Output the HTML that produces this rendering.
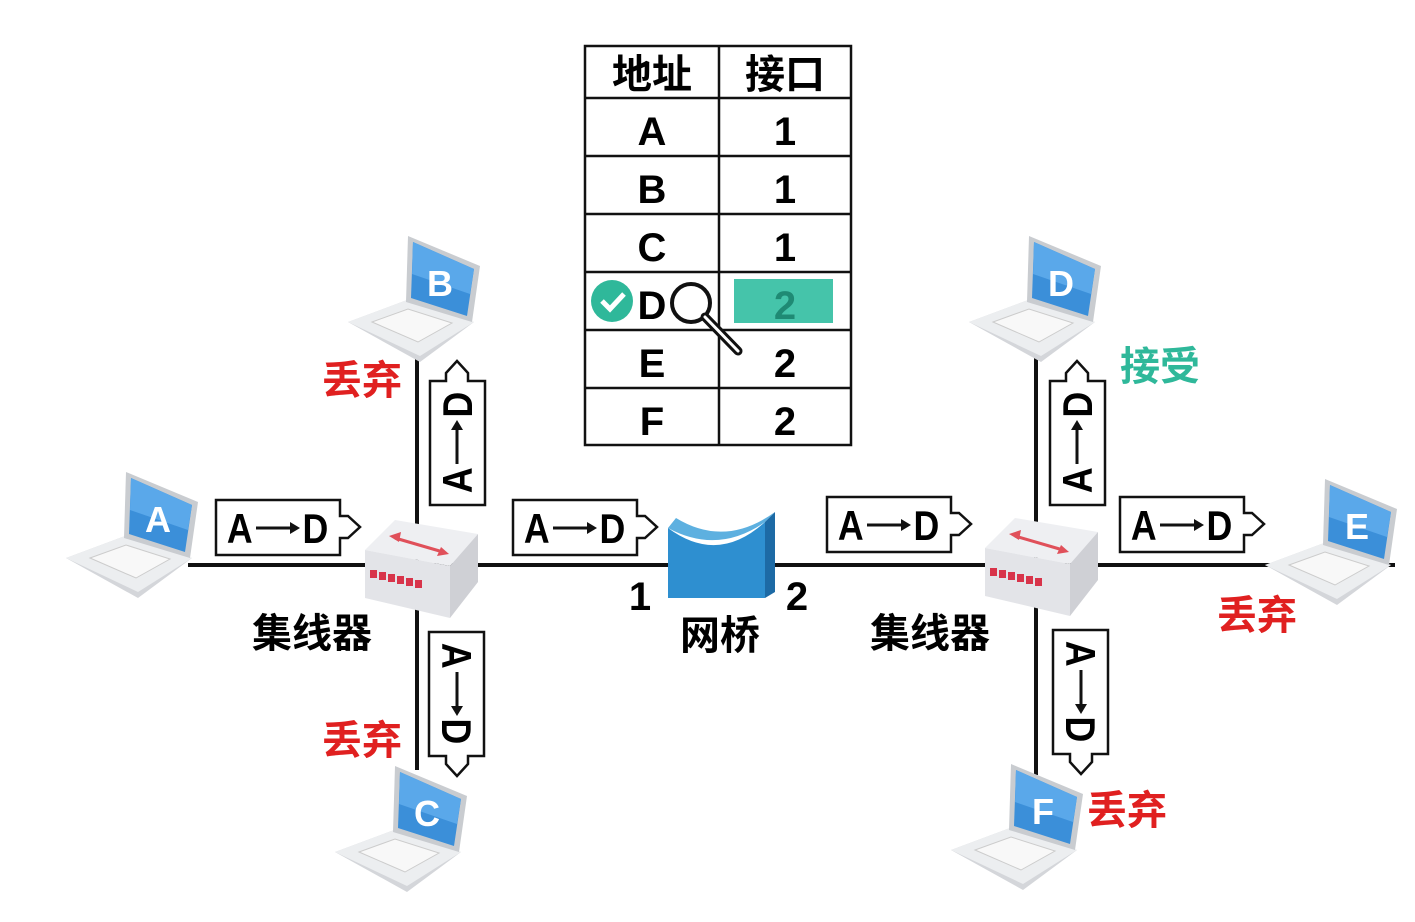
<!DOCTYPE html>
<html><head><meta charset="utf-8"><style>body{margin:0;background:#fff}svg{display:block}text{font-family:"Liberation Sans","Noto Sans CJK SC",sans-serif;font-weight:bold}</style></head><body>
<svg width="1415" height="922" viewBox="0 0 1415 922" xmlns="http://www.w3.org/2000/svg">
<defs>
<g id="lap">
<polygon points="-4,88 55,66 122,88 68,128" fill="#d4d6da"/>
<polygon points="-4,88 55,66 122,88 68,122" fill="#eceef0"/>
<polygon points="20,88 56,75 100,89 66,108" fill="#f8f8f8" stroke="#ccc"/>
<polygon points="56,2 128,32 120,88 54,68" fill="#c9ccd0"/>
<polygon points="61,8 122,35 115,82 59,64" fill="#3b8fd9"/>
<polygon points="61,8 122,35 118,60 60,40" fill="#5aa8ea"/>
</g>
<g id="hub">
<polygon points="0,30 30,0 113,14 85,46" fill="#eeeff2"/>
<polygon points="0,30 85,46 85,98 0,78" fill="#e3e4e8"/>
<polygon points="85,46 113,14 113,62 85,98" fill="#cfd0d5"/>
<line x1="30" y1="18" x2="78" y2="32" stroke="#e0505a" stroke-width="3"/>
<polygon points="24,16 36,12 34,22" fill="#e0505a"/><polygon points="84,34 72,36 76,27" fill="#e0505a"/>
<g fill="#d8344a"><rect x="5" y="50" width="7" height="8"/><rect x="14" y="52" width="7" height="8"/><rect x="23" y="54" width="7" height="8"/><rect x="32" y="56" width="7" height="8"/><rect x="41" y="58" width="7" height="8"/><rect x="50" y="60" width="7" height="8"/></g>
</g>
<g id="hbox"><polygon points="0,0 124,0 124,16 132,16 144,27 132,38 124,38 124,55 0,55" fill="#fff" stroke="#111" stroke-width="2.5"/></g>
<g id="lbl">
<text x="-45" y="0" text-anchor="middle" font-size="42" transform="scale(0.85,1)">A</text>
<line x1="-22" y1="-15" x2="16" y2="-15" stroke="#111" stroke-width="3"/>
<polygon points="22,-15 12,-21 12,-9" fill="#111"/>
<text x="44" y="0" text-anchor="middle" font-size="42" transform="scale(0.85,1)">D</text>
</g>
</defs>
<line x1="188" y1="565" x2="1395" y2="565" stroke="#111" stroke-width="4"/>
<line x1="417" y1="355" x2="417" y2="770" stroke="#111" stroke-width="4"/>
<line x1="1036" y1="355" x2="1036" y2="775" stroke="#111" stroke-width="4"/>
<use href="#hbox" x="216" y="500"/><use href="#lbl" x="278" y="543"/>
<use href="#hbox" x="513" y="500"/><use href="#lbl" x="575" y="543"/>
<use href="#hbox" x="827" y="497"/><use href="#lbl" x="889" y="540"/>
<use href="#hbox" x="1120" y="497"/><use href="#lbl" x="1182" y="540"/>
<use href="#hbox" transform="translate(430,505) rotate(-90)"/><use href="#lbl" transform="translate(472,442) rotate(-90)"/>
<use href="#hbox" transform="translate(1050,505) rotate(-90)"/><use href="#lbl" transform="translate(1092,442) rotate(-90)"/>
<use href="#hbox" transform="translate(484,632) rotate(90)"/><use href="#lbl" transform="translate(442,694) rotate(90)"/>
<use href="#hbox" transform="translate(1108,630) rotate(90)"/><use href="#lbl" transform="translate(1066,692) rotate(90)"/>
<use href="#hub" x="365" y="520"/><use href="#hub" x="985" y="518"/>
<use href="#lap" x="70" y="470"/><use href="#lap" x="352" y="234"/><use href="#lap" x="339" y="764"/>
<use href="#lap" x="973" y="234"/><use href="#lap" x="1269" y="477"/><use href="#lap" x="955" y="762"/>
<g font-size="36" fill="#fff" text-anchor="middle">
<text x="158" y="532">A</text><text x="440" y="296">B</text><text x="427" y="826">C</text>
<text x="1061" y="296">D</text><text x="1357" y="539">E</text><text x="1043" y="824">F</text></g>
<path d="M668,528 Q718,565 765,522 L765,598 L668,598 Z" fill="#2e8fd0"/>
<path d="M668,528 Q718,555 765,522 L775,512 Q725,548 676,518 Z" fill="#5db0e0"/>
<polygon points="765,522 775,512 775,592 765,598" fill="#1d6aa5"/>
<g font-size="40">
<text x="640" y="610" text-anchor="middle">1</text><text x="797" y="610" text-anchor="middle">2</text>
<text x="312" y="647" text-anchor="middle">集线器</text><text x="930" y="647" text-anchor="middle">集线器</text>
<text x="720" y="649" text-anchor="middle">网桥</text>
<g fill="#e02020"><text x="362" y="394" text-anchor="middle">丢弃</text><text x="362" y="754" text-anchor="middle">丢弃</text><text x="1257" y="629" text-anchor="middle">丢弃</text><text x="1127" y="824" text-anchor="middle">丢弃</text></g>
<text x="1160" y="380" text-anchor="middle" fill="#2fb89a">接受</text>
</g>
<rect x="734" y="279" width="99" height="44" fill="#45c4aa"/>
<g stroke="#111" stroke-width="2.5" fill="none">
<rect x="585" y="46" width="266" height="399"/>
<line x1="719" y1="46" x2="719" y2="445"/>
<line x1="585" y1="98" x2="851" y2="98"/><line x1="585" y1="156" x2="851" y2="156"/><line x1="585" y1="214" x2="851" y2="214"/><line x1="585" y1="272" x2="851" y2="272"/><line x1="585" y1="330" x2="851" y2="330"/><line x1="585" y1="388" x2="851" y2="388"/>
</g>
<g font-size="40" text-anchor="middle">
<text x="652" y="88">地址</text><text x="785" y="88">接口</text>
<text x="652" y="145">A</text><text x="785" y="145">1</text>
<text x="652" y="203">B</text><text x="785" y="203">1</text>
<text x="652" y="261">C</text><text x="785" y="261">1</text>
<text x="652" y="319">D</text><text x="785" y="319" fill="#1f8a74">2</text>
<text x="652" y="377">E</text><text x="785" y="377">2</text>
<text x="652" y="435">F</text><text x="785" y="435">2</text>
</g>
<circle cx="612" cy="301" r="21" fill="#2fb89a"/>
<polyline points="602,301 610,309 624,294" fill="none" stroke="#fff" stroke-width="5"/>
<circle cx="691" cy="303" r="19" fill="none" stroke="#fff" stroke-width="9"/>
<circle cx="691" cy="303" r="19" fill="none" stroke="#111" stroke-width="4"/>
<line x1="705" y1="317" x2="738" y2="351" stroke="#111" stroke-width="9" stroke-linecap="round"/>
<line x1="705" y1="317" x2="738" y2="351" stroke="#fff" stroke-width="3" stroke-linecap="round"/>
</svg>
</body></html>
